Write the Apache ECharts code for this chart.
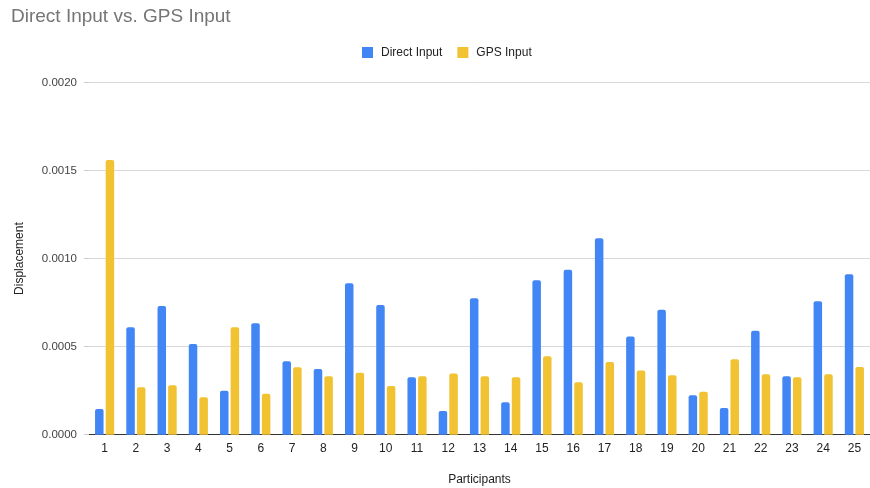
<!DOCTYPE html>
<html>
<head>
<meta charset="utf-8">
<script src="https://cdn.jsdelivr.net/npm/echarts@6/dist/echarts.min.js"></script>
<style>
  html, body { margin: 0; padding: 0; background: #fff; }
  #chart { width: 870px; height: 488px; }
</style>
</head>
<body>
<div id="chart"></div>
<script>
// Participant ids along the x axis
const participants = ['1','2','3','4','5','6','7','8','9','10','11','12','13','14','15','16','17','18','19','20','21','22','23','24','25'];

// Displacement per participant, entered directly
const directInput = [0.000146, 0.00061, 0.000731, 0.000515, 0.00025, 0.000633, 0.000417, 0.000373, 0.00086, 0.000737,
                     0.000326, 0.000135, 0.000775, 0.000184, 0.000877, 0.000937, 0.001116, 0.000557, 0.00071, 0.000224,
                     0.000152, 0.00059, 0.000332, 0.000758, 0.000911];

// Displacement per participant, from GPS
const gpsInput = [0.00156, 0.000269, 0.000281, 0.000212, 0.00061, 0.000233, 0.000383, 0.000332, 0.000352, 0.000277,
                  0.000332, 0.000347, 0.000332, 0.000326, 0.000445, 0.000298, 0.000413, 0.000364, 0.000337, 0.000244,
                  0.000428, 0.000343, 0.000326, 0.000343, 0.000385];

const FONT = 'Liberation Sans, Arial, sans-serif';
const chart = echarts.init(document.getElementById('chart'), null, { renderer: 'canvas' });

chart.setOption({
  animation: false,
  backgroundColor: '#ffffff',
  title: {
    text: 'Direct Input vs. GPS Input',
    left: 6,
    top: 2,
    textStyle: { fontFamily: FONT, fontSize: 19, fontWeight: 'normal', color: '#757575' }
  },
  legend: {
    top: 41.5,
    left: 357,
    itemWidth: 11,
    itemHeight: 11,
    itemGap: 15,
    icon: 'rect',
    textStyle: { fontFamily: FONT, fontSize: 12, color: '#222', padding: [0, 0, 0, 3] },
    data: ['Direct Input', 'GPS Input']
  },
  grid: { left: 89, right: 0, top: 82.5, bottom: 53.3, containLabel: false, outerBoundsMode: 'none' },
  xAxis: {
    type: 'category',
    data: participants,
    name: 'Participants',
    nameLocation: 'middle',
    nameGap: 39,
    nameTextStyle: { fontFamily: FONT, fontSize: 12, color: '#222' },
    axisLine: { lineStyle: { color: '#333', width: 1 } },
    axisTick: { show: false },
    axisLabel: { fontFamily: FONT, fontSize: 12, color: '#222', margin: 8, interval: 0 }
  },
  yAxis: {
    type: 'value',
    min: 0,
    max: 0.002,
    interval: 0.0005,
    name: 'Displacement',
    nameLocation: 'middle',
    nameGap: 63,
    nameTextStyle: { fontFamily: FONT, fontSize: 12, color: '#222' },
    axisLine: { show: false },
    axisTick: { show: true, length: 5, lineStyle: { color: '#cccccc' } },
    splitLine: { lineStyle: { color: '#d9d9d9', width: 1 } },
    axisLabel: {
      fontFamily: FONT, fontSize: 11.5, color: '#444', margin: 12,
      formatter: v => v.toFixed(4)
    }
  },
  series: [
    {
      name: 'Direct Input',
      type: 'bar',
      data: directInput,
      barWidth: 8.5,
      barGap: '25%',
      itemStyle: { color: '#4285F4', borderRadius: [2, 2, 0, 0] }
    },
    {
      name: 'GPS Input',
      type: 'bar',
      data: gpsInput,
      barWidth: 8.5,
      barGap: '25%',
      itemStyle: { color: '#F1C232', borderRadius: [2, 2, 0, 0] }
    }
  ]
});
</script>
</body>
</html>
